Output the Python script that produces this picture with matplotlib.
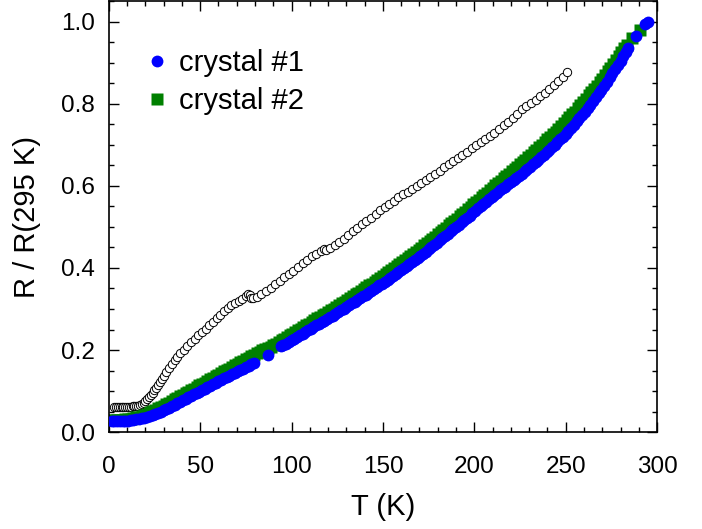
import numpy as np
from matplotlib import pyplot as plt
from matplotlib.ticker import MultipleLocator

plt.rcParams['font.family'] = ['Liberation Sans', 'DejaVu Sans']

############ crystal #1 (blue circles), (T, R/R295) ############
blue_low = [(1.5, .027), (3, .027), (4.5, .027), (6, .027), (7.5, .027), (9, .028),
            (10.5, .028), (12, .029), (13.5, .030), (15, .031), (16.5, .032), (18, .034),
            (19.5, .035), (21, .037), (22.5, .039), (24, .042), (25.5, .044), (27, .047),
            (28.5, .050), (30, .053), (31.5, .056), (33, .060), (34.5, .063), (36, .067),
            (37.5, .070), (39, .074), (40.5, .078), (42, .082), (43.5, .085), (45, .089),
            (46.5, .092), (48, .096), (49.5, .099), (51, .103), (52.5, .106), (54, .110),
            (55.5, .113), (57, .117), (58.5, .120), (60, .124), (61.5, .127), (63, .131),
            (64.5, .134), (66, .138), (67.5, .141), (69, .145), (70.5, .148), (72, .151),
            (73.5, .154), (75, .158), (76.5, .161), (78, .165), (79.5, .168),
            (87, .188)]
blue_high = [(94, .209), (95.5, .212), (97, .216), (98.5, .220), (100, .224), (101.5, .228),
             (103, .232), (104.5, .236), (106, .240), (107.5, .244), (109, .248),
             (110.5, .252), (112, .256), (113.5, .260), (115, .264), (116.5, .268),
             (118, .272), (119.5, .276), (121, .280), (122.5, .284), (124, .289),
             (125.5, .293), (127, .297), (128.5, .301), (130, .305), (131.5, .309),
             (133, .314), (134.5, .318), (136, .322), (137.5, .326), (139, .331),
             (140.5, .335), (142, .340), (143.5, .344), (145, .349), (146.5, .353),
             (148, .358), (149.5, .362), (151, .367), (152.5, .371), (154, .376),
             (155.5, .380), (157, .385), (158.5, .390), (160, .395), (161.5, .400),
             (163, .405), (164.5, .409), (166, .414), (167.5, .419), (169, .424),
             (170.5, .429), (172, .435), (173.5, .440), (175, .445), (176.5, .450),
             (178, .456), (179.5, .461), (181, .467), (182.5, .472), (184, .478),
             (185.5, .483), (187, .489), (188.5, .494), (190, .500), (191.5, .505),
             (193, .511), (194.5, .516), (196, .522), (197.5, .527), (199, .533),
             (200.5, .539), (202, .545), (203.5, .550), (205, .556), (206.5, .561),
             (208, .567), (209.5, .572), (211, .578), (212.5, .583), (214, .589),
             (215.5, .594), (217, .598), (218.5, .604), (220, .609), (221.5, .614),
             (223, .620), (224.5, .625), (226, .630), (227.5, .636), (229, .641),
             (230.5, .646), (232, .652), (233.5, .658), (235, .664), (236.5, .670),
             (238, .676), (239.5, .682), (241, .688), (242.5, .694), (244, .700),
             (245.5, .706), (247, .713), (248.5, .720), (250, .727), (251.5, .734),
             (253, .742), (254.5, .749), (256, .757), (257.5, .765), (259, .773),
             (260.5, .781), (262, .790), (263.5, .798), (265, .807), (266.5, .816),
             (268, .825), (269.5, .834), (271, .844), (272.5, .854), (274, .864),
             (275.5, .874), (277, .884), (278.5, .894), (280, .905), (281.5, .915),
             (283, .926), (284.3, .935), (288.7, .965), (293.5, .994), (295.3, 1.000)]

############ crystal #2 (green squares) ############
green = [(1.5, .030), (3, .030), (4.5, .030), (6, .030), (7.5, .030), (9, .031),
         (10.5, .031), (12, .033), (13.5, .034), (15, .036), (16.5, .038), (18, .040),
         (19.5, .042), (21, .045), (22.5, .048), (24, .051), (25.5, .054), (27, .058),
         (28.5, .061), (30, .065), (31.5, .068), (33, .072), (34.5, .076), (36, .080),
         (37.5, .083), (39, .087), (40.5, .091), (42, .095), (43.5, .099), (45, .103),
         (46.5, .106), (48, .110), (49.5, .114), (51, .118), (52.5, .121), (54, .125),
         (55.5, .129), (57, .133), (58.5, .137), (60, .140), (61.5, .144), (63, .148),
         (64.5, .152), (66, .155), (67.5, .159), (69, .163), (70.5, .167), (72, .170),
         (73.5, .174), (75, .178), (76.5, .181), (78, .185), (79.5, .188), (81, .192),
         (82.5, .195), (84, .199), (85.5, .202), (87, .205), (88.5, .208), (90, .212),
         (91.5, .216), (93, .220), (94.5, .224), (96, .228), (97.5, .232), (99, .236),
         (100.5, .240), (102, .244), (103.5, .248), (105, .252), (106.5, .256),
         (108, .260), (109.5, .264), (111, .268), (112.5, .273), (114, .277),
         (115.5, .281), (117, .285), (118.5, .289), (120, .293), (121.5, .297),
         (123, .301), (124.5, .306), (126, .310), (127.5, .314), (129, .318),
         (130.5, .323), (132, .327), (133.5, .331), (135, .336), (136.5, .340),
         (138, .345), (139.5, .349), (141, .353), (142.5, .358), (144, .362),
         (145.5, .367), (147, .371), (148.5, .376), (150, .381), (151.5, .386),
         (153, .390), (154.5, .395), (156, .399), (157.5, .404), (159, .409),
         (160.5, .414), (162, .419), (163.5, .424), (165, .429), (166.5, .434),
         (168, .439), (169.5, .444), (171, .449), (172.5, .455), (174, .460),
         (175.5, .465), (177, .471), (178.5, .476), (180, .482), (181.5, .487),
         (183, .493), (184.5, .498), (186, .504), (187.5, .509), (189, .515),
         (190.5, .520), (192, .526), (193.5, .532), (195, .537), (196.5, .543),
         (198, .549), (199.5, .555), (201, .560), (202.5, .566), (204, .572),
         (205.5, .578), (207, .583), (208.5, .589), (210, .595), (211.5, .601),
         (213, .606), (214.5, .612), (216, .618), (217.5, .623), (219, .629),
         (220.5, .635), (222, .641), (223.5, .647), (225, .653), (226.5, .658),
         (228, .664), (229.5, .670), (231, .676), (232.5, .682), (234, .688),
         (235.5, .694), (237, .700), (238.5, .706), (240, .713), (241.5, .719),
         (243, .726), (244.5, .732), (246, .739), (247.5, .746), (249, .752),
         (250.5, .760), (252, .767), (253.5, .774), (255, .781), (256.5, .789),
         (258, .796), (259.5, .804), (261, .812), (262.5, .820), (264, .828),
         (265.5, .836), (267, .844), (268.5, .853), (270, .861), (271.5, .870),
         (273, .879), (274.5, .888), (276, .897), (277.5, .906), (279, .916),
         (280.5, .926), (282, .935), (283.5, .944), (286.2, .959), (290.7, .979)]

############ open circles (no legend entry) ############
T3 = [3, 4, 5, 6, 7, 8, 9, 10, 11, 12, 13, 14, 15, 16, 17, 18, 19, 20, 21, 22, 23, 24,
      25, 26, 27, 28, 29, 30, 31.5, 33, 34.5, 36, 37.5, 39, 41, 43, 45, 47, 49, 51, 53,
      55, 57, 59, 61, 63, 65, 67, 69, 71, 73, 75, 76, 77, 78, 79, 81, 83.5, 86, 88.5,
      91, 93.5, 96, 98.5, 101, 103.5, 106, 108.5, 111, 113.5, 116, 118, 119, 121, 123.5,
      126, 128.5, 131, 133.5, 136, 138.5, 141, 143.5, 146, 148.5, 151, 153.5, 156,
      158.5, 161, 163.5, 166, 168.5, 171, 173.5, 176, 178.5, 181, 183.5, 186, 188.5,
      191, 193.5, 196, 198.5, 201, 203.5, 206, 208.5, 211, 213.5, 216, 218.5, 221,
      223.5, 226, 228.5, 231, 233.5, 236, 238.5, 241, 243.5, 246, 248.5, 250.5]
R3 = [0.061, 0.061, 0.061, 0.061, 0.061, 0.062, 0.062, 0.062, 0.062, 0.062, 0.063, 0.063,
      0.063, 0.064, 0.066, 0.069, 0.072, 0.076, 0.080, 0.085, 0.090, 0.096,
      0.102, 0.108, 0.115, 0.122, 0.129, 0.136, 0.146, 0.156, 0.165, 0.175, 0.184, 0.192,
      0.201, 0.210, 0.219, 0.228, 0.236, 0.244, 0.252,
      0.260, 0.269, 0.278, 0.286, 0.294, 0.302, 0.309, 0.315, 0.320, 0.325, 0.332, 0.336,
      0.334, 0.328, 0.327, 0.330, 0.337, 0.344, 0.352,
      0.360, 0.368, 0.377, 0.385, 0.393, 0.402, 0.411, 0.420, 0.428, 0.435, 0.441, 0.447,
      0.443, 0.449, 0.456,
      0.463, 0.471, 0.480, 0.490, 0.498, 0.506, 0.514, 0.522, 0.531, 0.540, 0.548, 0.556,
      0.564,
      0.572, 0.580, 0.586, 0.592, 0.599, 0.606, 0.614, 0.621, 0.629, 0.637, 0.645, 0.653,
      0.660, 0.667, 0.675, 0.683, 0.691, 0.699, 0.707, 0.713, 0.721, 0.729, 0.738, 0.747,
      0.756, 0.766,
      0.776, 0.786, 0.794, 0.801, 0.809, 0.818, 0.827, 0.836, 0.845, 0.855, 0.866, 0.878]

T1, R1 = zip(*(blue_low + blue_high))
T2, R2 = zip(*green)

fig = plt.figure(figsize=(7.02, 5.29), dpi=100)
ax = fig.add_axes([0.155, 0.183, 0.781, 0.815])

ax.plot(T3, R3, 'o', ms=6, mfc='white', mec='black', mew=0.7, zorder=1)
ax.plot(T2, R2, 's', ms=8.5, color='green', mec='none', label='crystal #2', zorder=2)
ax.plot(T1, R1, 'o', ms=8.5, color='blue', mec='none', label='crystal #1', zorder=3)

ax.set_xlim(0, 300)
ax.set_ylim(0, 1.05)
ax.xaxis.set_major_locator(MultipleLocator(50))
ax.xaxis.set_minor_locator(MultipleLocator(10))
ax.yaxis.set_major_locator(MultipleLocator(0.2))
ax.yaxis.set_minor_locator(MultipleLocator(0.05))
ax.yaxis.set_major_formatter(plt.FormatStrFormatter('%.1f'))

ax.tick_params(which='both', direction='in', top=True, right=True, width=1.0,
               labelsize=17.5)
ax.tick_params(which='major', length=7.2)
ax.tick_params(which='minor', length=3.6)
ax.tick_params(axis='x', pad=17)
ax.tick_params(axis='y', pad=10)
for sp in ax.spines.values():
    sp.set_linewidth(1.2)

ax.set_xlabel('T (K)', fontsize=21, labelpad=11)
ax.set_ylabel('R / R(295 K)', fontsize=21, labelpad=14)

handles, labels = ax.get_legend_handles_labels()
ax.legend(handles[::-1], labels[::-1], loc='upper left', bbox_to_anchor=(0.03, 0.93),
          frameon=False, fontsize=21, markerscale=1.0, handlelength=1.0,
          handletextpad=0.25, labelspacing=0.35, borderaxespad=0.2)

fig.savefig('out.png', dpi=100)
